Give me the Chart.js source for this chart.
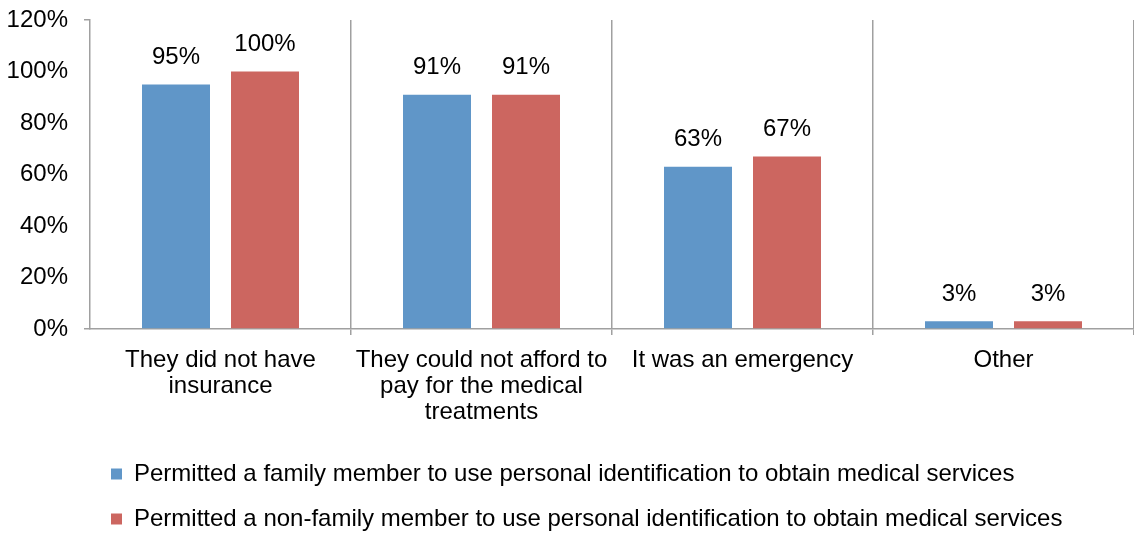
<!DOCTYPE html>
<html>
<head>
<meta charset="utf-8">
<script src="https://cdn.jsdelivr.net/npm/chart.js"></script>
<style>
  html, body { margin: 0; padding: 0; background: #fff; }
  #wrap { width: 1134px; height: 535px; }
</style>
</head>
<body>
<div id="wrap"><canvas id="chart"></canvas></div>
<script>
// Motivos para emprestar a identificação pessoal
const categories = [
  ['They did not have', 'insurance'],
  ['They could not afford to', 'pay for the medical', 'treatments'],
  'It was an emergency',
  'Other'
];
const familyValues = [95, 91, 63, 3];
const nonFamilyValues = [100, 91, 67, 3];
const seriesNames = [
  'Permitted a family member to use personal identification to obtain medical services',
  'Permitted a non-family member to use personal identification to obtain medical services'
];
const yTicks = [0, 20, 40, 60, 80, 100, 120];

const FONT = 'Liberation Sans, Arial, sans-serif';
const LEGEND_HEIGHT = 94;
const AXIS_GREY = '#A0A0A0';

// Altura fixa para a legenda (duas linhas)
const legendHeight = {
  id: 'legendHeight',
  beforeInit(chart) {
    const legend = chart.legend;
    if (!legend) return;
    const fit = legend.fit;
    legend.fit = function() {
      fit.call(this);
      this.height = LEGEND_HEIGHT;
    };
  }
};

// Rótulos de valor acima de cada barra
const valueLabels = {
  id: 'valueLabels',
  afterDatasetsDraw(chart) {
    const ctx = chart.ctx;
    ctx.save();
    ctx.font = '24px ' + FONT;
    ctx.fillStyle = '#000';
    ctx.textAlign = 'center';
    ctx.textBaseline = 'middle';
    chart.data.datasets.forEach((ds, i) => {
      chart.getDatasetMeta(i).data.forEach((bar, j) => {
        ctx.fillText(ds.data[j] + '%', bar.x, bar.y - 27);
      });
    });
    ctx.restore();
  }
};

new Chart(document.getElementById('chart'), {
  type: 'bar',
  data: {
    labels: categories,
    datasets: [
      {
        label: seriesNames[0],
        data: familyValues,
        backgroundColor: '#6096C8',
        categoryPercentage: 0.682,
        barPercentage: 0.764
      },
      {
        label: seriesNames[1],
        data: nonFamilyValues,
        backgroundColor: '#CC6660',
        categoryPercentage: 0.682,
        barPercentage: 0.764
      }
    ]
  },
  options: {
    responsive: true,
    maintainAspectRatio: false,
    animation: false,
    layout: {
      padding: { top: 20, left: 0, right: 0, bottom: 0 }
    },
    plugins: {
      tooltip: { enabled: false },
      legend: {
        position: 'bottom',
        align: 'start',
        fullSize: false,
        labels: {
          boxWidth: 11,
          boxHeight: 11,
          padding: 21,
          color: '#000',
          font: { family: FONT, size: 24 }
        }
      }
    },
    scales: {
      x: {
        grid: {
          color: (c) => (c.index === 0 || c.index === 4) ? 'rgba(0,0,0,0)' : AXIS_GREY,
          lineWidth: 1.5,
          tickLength: 6,
          offset: true
        },
        border: { color: AXIS_GREY, width: 1.5 },
        ticks: {
          color: '#000',
          padding: 12,
          maxRotation: 0,
          autoSkip: false,
          font: { family: FONT, size: 24, lineHeight: 1.083 }
        },
        afterFit(scale) { scale.height = 112; }
      },
      y: {
        min: 0,
        max: 120,
        afterBuildTicks(scale) { scale.ticks = yTicks.map(v => ({ value: v })); },
        grid: {
          drawOnChartArea: false,
          tickLength: 6,
          lineWidth: 1.5,
          // só as marcas das pontas do eixo aparecem
          color: (c) => (c.index === 0 || c.index === yTicks.length - 1) ? AXIS_GREY : 'rgba(0,0,0,0)'
        },
        border: { color: AXIS_GREY, width: 1.5 },
        ticks: {
          color: '#000',
          padding: 16,
          font: { family: FONT, size: 24, lineHeight: 1 },
          callback: (v) => v + '%'
        },
        afterFit(scale) {
          scale.width = 90;
          scale.paddingTop = 12;
          scale.paddingBottom = 12;
        }
      }
    }
  },
  plugins: [legendHeight, valueLabels]
});
</script>
</body>
</html>
